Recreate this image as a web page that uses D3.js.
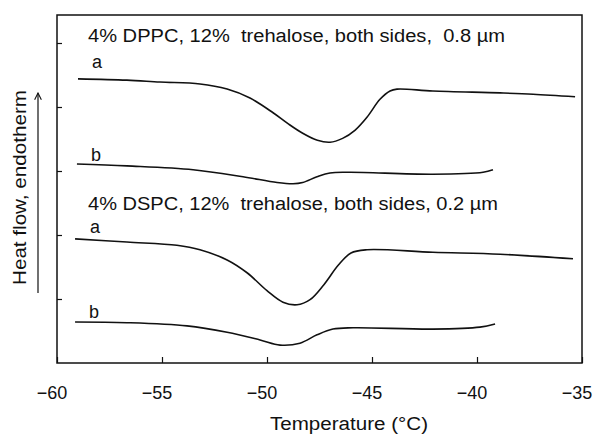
<!DOCTYPE html>
<html>
<head>
<meta charset="utf-8">
<script src="https://cdn.jsdelivr.net/npm/d3@7"></script>
<style>
  html, body { margin: 0; padding: 0; background: #fff; }
  svg { display: block; font-family: "Liberation Sans", Arial, sans-serif; }
  .pre { white-space: pre; }
</style>
</head>
<body>
<svg id="chart" width="595" height="434"></svg>
<script>
// Temperature (°C) and heat flow (arbitrary units, offset traces)
const dppcA_T = [-59.0, -56.67, -55.1, -53.19, -51.9, -50.81, -49.71, -49.0, -48.3, -47.6, -47.0, -46.4, -45.8, -45.24, -44.62, -44.14, -43.81, -42.1, -38.9, -37.33, -35.33];
const dppcA_H = [4.44, 4.42, 4.39, 4.36, 4.28, 4.14, 3.91, 3.74, 3.59, 3.48, 3.45, 3.51, 3.64, 3.84, 4.12, 4.25, 4.28, 4.25, 4.22, 4.20, 4.16];

const dppcB_T = [-59.05, -56.67, -53.52, -51.14, -49.52, -48.76, -48.3, -47.62, -47.0, -46.05, -42.1, -39.71, -39.24];
const dppcB_H = [3.11, 3.08, 3.02, 2.91, 2.82, 2.80, 2.82, 2.91, 2.97, 2.98, 2.95, 2.98, 3.02];

const dspcA_T = [-59.14, -56.67, -54.29, -53.19, -51.9, -50.95, -50.0, -49.24, -48.57, -47.95, -47.3, -46.6, -46.0, -45.24, -42.1, -38.9, -35.43];
const dspcA_H = [1.94, 1.89, 1.84, 1.77, 1.61, 1.41, 1.13, 0.95, 0.91, 0.99, 1.22, 1.53, 1.72, 1.77, 1.73, 1.70, 1.63];

const dspcB_T = [-59.14, -56.67, -53.81, -51.9, -50.33, -49.38, -48.43, -47.62, -46.86, -45.9, -42.1, -39.86, -39.14];
const dspcB_H = [0.64, 0.63, 0.58, 0.48, 0.36, 0.28, 0.31, 0.44, 0.53, 0.55, 0.53, 0.56, 0.61];

const xTicks = [-60, -55, -50, -45, -40, -35];
const yTicks = [1, 2, 3, 4, 5];

const titleDPPC = "4% DPPC, 12%  trehalose, both sides,  0.8 \u00b5m";
const titleDSPC = "4% DSPC, 12%  trehalose, both sides, 0.2 \u00b5m";
const xTitle = "Temperature (\u00b0C)";
const yTitle = "Heat flow, endotherm";

const svg = d3.select("#chart");
const L = 57, R = 582, T = 15, B = 363;

const x = d3.scaleLinear().domain([-60, -35]).range([L, R]);
const y = d3.scaleLinear().domain([0, 5.4375]).range([B, T]);

const ink = "#111";

// curves
const line = d3.line().x(d => x(d[0])).y(d => y(d[1])).curve(d3.curveCatmullRom.alpha(0.5));
const series = [
  [dppcA_T, dppcA_H],
  [dppcB_T, dppcB_H],
  [dspcA_T, dspcA_H],
  [dspcB_T, dspcB_H]
];
series.forEach(([ts, hs]) => {
  svg.append("path")
    .datum(ts.map((t, i) => [t, hs[i]]))
    .attr("d", line)
    .attr("fill", "none")
    .attr("stroke", ink)
    .attr("stroke-width", 1.6)
    .attr("stroke-linejoin", "round");
});

// x axis ticks (inward)
const xAxis = d3.axisBottom(x).tickValues(xTicks).tickSize(-6).tickPadding(0).tickFormat("");
const gx = svg.append("g").attr("transform", `translate(0,${B})`).call(xAxis);
gx.select(".domain").remove();
gx.selectAll(".tick line").attr("stroke", ink).attr("stroke-width", 1.2);

// x tick labels
svg.append("g").selectAll("text").data(xTicks).join("text")
  .attr("x", d => x(d) - 5)
  .attr("y", 399)
  .attr("text-anchor", "middle")
  .attr("font-size", 18)
  .attr("fill", ink)
  .text(d => "\u2212" + Math.abs(d));

// y axis ticks (inward)
const yAxis = d3.axisLeft(y).tickValues(yTicks).tickSize(-5).tickFormat("");
const gy = svg.append("g").attr("transform", `translate(${L},0)`).call(yAxis);
gy.select(".domain").remove();
gy.selectAll(".tick line").attr("stroke", ink).attr("stroke-width", 1.2);

// frame
svg.append("rect")
  .attr("x", L).attr("y", T).attr("width", R - L).attr("height", B - T)
  .attr("fill", "none").attr("stroke", ink).attr("stroke-width", 1.5);

// annotations
const ann = svg.append("g").attr("fill", ink).attr("font-size", 18);
ann.append("text").attr("class", "pre").attr("x", 88).attr("y", 42).attr("textLength", 417).attr("lengthAdjust", "spacingAndGlyphs").text(titleDPPC);
ann.append("text").attr("class", "pre").attr("x", 88).attr("y", 210).attr("textLength", 410).attr("lengthAdjust", "spacingAndGlyphs").text(titleDSPC);
ann.append("text").attr("x", 92).attr("y", 68).text("a");
ann.append("text").attr("x", 91).attr("y", 161).text("b");
ann.append("text").attr("x", 90).attr("y", 233).text("a");
ann.append("text").attr("x", 89).attr("y", 318).text("b");

// axis titles
svg.append("text")
  .attr("x", 270).attr("y", 430)
  .attr("font-size", 18)
  .attr("textLength", 158).attr("lengthAdjust", "spacingAndGlyphs")
  .attr("fill", ink)
  .text(xTitle);

svg.append("text")
  .attr("transform", "translate(26,285) rotate(-90)")
  .attr("font-size", 18)
  .attr("textLength", 195).attr("lengthAdjust", "spacingAndGlyphs")
  .attr("fill", ink)
  .text(yTitle);

// arrow beside y title
svg.append("defs").append("marker")
  .attr("id", "arrowhead")
  .attr("viewBox", "0 0 10 10")
  .attr("refX", 9).attr("refY", 5)
  .attr("markerWidth", 7).attr("markerHeight", 7)
  .attr("orient", "auto")
  .append("path")
  .attr("d", "M1,1 L9,5 L1,9")
  .attr("fill", "none").attr("stroke", ink).attr("stroke-width", 1.3);

svg.append("line")
  .attr("x1", 38).attr("x2", 38)
  .attr("y1", 293).attr("y2", 93)
  .attr("stroke", ink).attr("stroke-width", 1.2)
  .attr("marker-end", "url(#arrowhead)");
</script>
</body>
</html>
